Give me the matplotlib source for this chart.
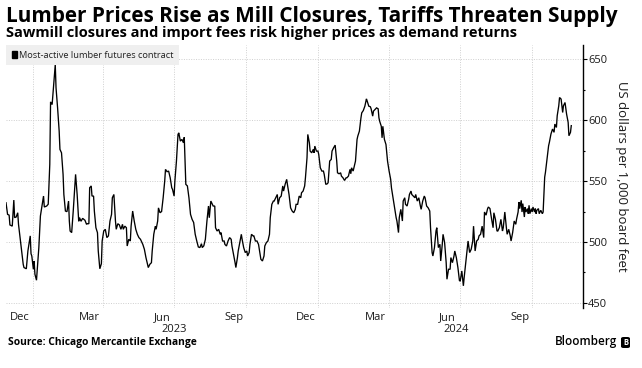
import matplotlib
matplotlib.use("Agg")
import matplotlib.pyplot as plt
import matplotlib.transforms as mtransforms
from matplotlib.patches import Patch, FancyBboxPatch
from matplotlib.ticker import MultipleLocator, NullFormatter
import pandas as pd

# ---------------- data ----------------
base_date = "2023-01-01"
day_offsets = [
    -34, -32, -30, -29, -26, -24, -23, -21, -19, -18, -16, -14, -12, -11, -8, -6, -3, -2, -1, 1, 2, 3, 5, 8, 10,
    12, 14, 15, 18, 20, 22, 23, 25, 27, 29, 30, 32, 34, 35, 37, 39, 40, 42, 44, 46, 47, 48, 50, 52, 55, 57, 59,
    60, 62, 64, 67, 69, 70, 72, 73, 75, 76, 78, 79, 81, 83, 84, 86,
    88, 89, 91, 93, 95, 97, 99, 101, 102, 104, 106, 107, 109, 111, 113, 115, 116, 118, 120, 121, 123, 125, 126,
    128, 130, 132, 134, 136, 138, 141, 143, 145, 147, 148, 150, 152, 153, 155, 157, 158, 160, 161, 163, 165, 167,
    169, 170, 172, 174, 176, 178, 179, 181, 182, 184, 186, 187, 189, 191, 193, 194, 195, 196, 198, 200, 202, 204,
    206, 208, 210, 212, 214, 216, 217, 219, 221, 223, 225, 226, 228, 229, 231, 233, 234, 236, 238, 240, 241, 243,
    245, 246, 248, 250, 252, 254, 255, 257, 259, 260, 262, 263, 265, 267, 268, 270, 272, 274, 275, 277, 278, 280,
    282, 283, 285, 287, 289, 291, 292, 294, 296, 297, 299, 301, 303, 304, 306, 308, 309, 311, 313, 314, 316, 318,
    320, 321, 323, 325, 326, 328, 330, 332, 334, 336, 337, 339, 341, 343, 344, 346, 348, 349, 351, 352, 354, 355,
    357, 359, 360, 361, 363, 365, 366, 368, 370, 372, 373, 375, 377, 378, 380, 382, 383, 385, 387, 389, 390, 392,
    394, 395, 397, 399, 401, 402, 404, 406, 407, 408, 410, 412, 413, 415, 416, 418, 420, 421, 423, 425, 427, 428,
    430, 432, 433, 435, 436, 438, 440, 442, 443, 444, 446, 447, 448, 450, 452, 454, 456, 458, 459, 461, 463, 465,
    466, 468, 469, 471, 473, 474, 476, 477, 479, 481, 482, 484, 485, 487, 489, 490, 492, 494, 496, 497, 499, 501,
    502, 504, 506, 508, 509, 511, 512, 514, 516, 517, 519, 521, 522, 524, 525, 527, 529, 530, 532, 534, 535, 537,
    539, 540, 542, 544, 546, 547, 549, 551, 552, 554, 556, 557, 559, 561, 563, 564, 566, 568, 570, 571, 573, 575,
    577, 578, 580, 582, 583, 585, 587, 589, 590, 592, 594, 595, 597, 599, 601, 602, 604, 606, 607, 609, 611, 612,
    614, 616, 618, 619, 621, 622, 623, 625, 626, 627, 629, 630, 631, 633, 634, 635, 636, 638, 639, 640, 642, 643,
    644, 645, 647, 648, 649, 650, 652, 653, 655, 656, 658, 660, 661, 663, 665, 667, 668, 670, 671, 673, 674, 676,
    678, 679, 681, 683, 685, 686, 688, 689,
]
prices = [
    532.2, 522.7, 522.0, 514.0, 513.0, 534.4, 520.0, 520.5, 524.0, 514.5, 503.5, 492.6, 481.7, 479.0, 478.0, 492.6,
    505.0, 490.4, 488.5, 477.6, 484.4, 473.5, 468.6, 495.4, 521.3, 529.5, 537.7, 528.7, 529.5, 531.0, 563.7, 615.0,
    612.8, 629.2, 645.6, 626.5, 610.0, 591.0, 576.0, 573.2, 555.5, 539.0, 525.4, 524.9, 533.6, 517.2, 509.0, 507.7,
    525.4, 555.5, 539.0, 517.0, 520.0, 517.0, 519.4, 517.8, 514.5, 515.0, 515.0, 544.5, 546.0, 537.7, 537.7, 525.4,
    511.7, 507.6, 492.6, 478.0,
    482.2, 500.8, 509.0, 510.4, 503.6, 505.0, 517.2, 522.7, 536.3, 539.0, 517.2, 510.4, 515.0, 514.0, 510.4, 514.5,
    510.4, 513.0, 511.7, 496.7, 502.2, 500.8, 513.0, 525.4, 517.2, 510.4, 506.3, 503.6, 502.2, 498.0, 494.0, 487.2,
    481.7, 479.0, 481.7, 483.0, 492.6, 506.3, 513.0, 510.4, 517.2, 528.0, 524.0, 525.0, 536.3, 550.0, 559.6, 557.7,
    558.2, 552.7, 544.5, 543.2, 537.7, 550.0, 566.4, 588.3, 589.6, 582.8, 584.2, 581.4, 586.0, 566.4, 547.3, 546.0,
    536.3, 522.7, 518.6, 516.0, 506.3, 500.8, 495.9, 495.4, 498.6, 495.4, 496.8, 502.2, 517.2, 529.5, 519.9, 533.6,
    532.2, 529.5, 529.5, 511.7, 509.0, 510.4, 506.3, 507.7, 500.8, 500.8, 498.0, 496.7, 500.8, 503.6, 502.2, 496.7,
    489.9, 483.0, 479.0, 487.2, 492.6, 499.5, 506.3, 502.2, 495.4, 491.3, 492.6, 488.5, 491.3, 498.0, 506.3, 505.0,
    505.0, 500.8, 500.8, 498.0, 489.9, 485.8, 484.4, 488.5, 496.7, 499.5, 500.8, 506.3, 520.0, 530.9, 533.6, 533.6,
    536.3, 539.0, 530.9, 536.3, 537.7, 546.0, 541.8, 547.3, 551.4, 547.0, 539.0, 528.0, 525.4, 524.0, 526.8, 530.9,
    530.9, 537.7, 536.3, 540.4, 541.8, 546.0, 552.7, 569.1, 588.3, 581.4, 574.6, 573.2, 576.0, 573.2, 578.7, 574.6,
    574.6, 571.9, 560.9, 558.2, 558.2, 555.5, 547.3, 547.8, 548.7, 566.4, 567.8, 574.6, 577.3, 579.5, 566.4, 556.8,
    556.0, 556.8, 554.1, 552.7, 550.5, 552.7, 552.7, 554.1, 559.6, 556.0, 560.9, 558.2, 563.7, 566.4, 584.2, 587.0,
    591.0, 601.9, 606.0, 607.9, 611.5, 617.5, 615.6, 611.5, 611.0, 609.3, 603.3, 607.4, 608.8, 610.1, 609.3, 601.9,
    599.0, 595.0, 585.5, 595.0, 584.2, 580.0, 566.4, 558.2, 551.4, 544.5, 536.3, 528.0, 520.0, 517.2, 507.7, 520.0,
    526.8, 517.2, 533.6, 536.3, 530.9, 529.5, 535.0, 539.0, 541.8, 539.0, 537.7, 536.3, 539.0, 533.6, 536.3, 529.5,
    526.8, 533.6, 537.7, 536.3, 529.5, 528.0, 525.4, 511.7, 491.3, 488.5, 495.4, 509.0, 511.7, 495.4, 498.1, 484.4,
    498.1, 506.3, 499.5, 483.0, 469.4, 477.6, 477.6, 487.2, 483.0, 488.5, 492.6, 487.2, 479.0, 468.1, 468.1, 476.2,
    464.0, 470.8, 483.0, 495.4, 500.8, 491.3, 494.0, 500.8, 513.0, 492.6, 500.8, 502.2, 505.0, 506.3, 513.0, 503.6,
    524.6, 522.0, 527.4, 528.7, 527.4, 519.2, 511.7, 524.0, 518.6, 509.0, 509.0, 511.7, 518.6, 509.0, 511.7, 524.6,
    511.7, 506.3, 510.4, 505.0, 500.8, 507.7, 517.2, 514.5, 518.6, 524.6, 532.8, 527.4, 534.2, 524.6, 531.5, 520.5,
    528.7, 524.6, 527.4, 523.2, 530.1, 523.2, 527.4, 524.6, 528.7, 524.6, 527.4, 523.2, 526.0, 527.4, 523.2, 524.6,
    526.0, 523.2, 524.6, 553.2, 557.3, 568.1, 579.0, 581.8, 588.6, 592.7, 590.0, 596.8, 594.0, 603.6, 611.8, 618.6,
    617.3, 606.3, 611.8, 614.5, 605.0, 598.2, 587.2, 590.0, 595.5,
]

title = "Lumber Prices Rise as Mill Closures, Tariffs Threaten Supply"
subtitle = "Sawmill closures and import fees risk higher prices as demand returns"
legend_label = "Most-active lumber futures contract"
y_label = "US dollars per 1,000 board feet"
source = "Source: Chicago Mercantile Exchange"
brand = "Bloomberg"

month_labels = ["Dec", "Mar", "Jun", "Sep", "Dec", "Mar", "Jun", "Sep"]
month_label_dates = ["2022-12-15", "2023-03-15", "2023-06-16", "2023-09-16",
                     "2023-12-16", "2024-03-15", "2024-06-15", "2024-09-15"]
grid_dates = ["2023-01-01", "2023-04-01", "2023-07-01", "2023-10-01",
              "2024-01-01", "2024-04-01", "2024-07-01", "2024-10-01"]
year_labels = ["2023", "2024"]
year_label_dates = ["2023-07-01", "2024-06-26"]
y_ticks = [450, 500, 550, 600, 650]
x_limits = ["2022-11-28", "2024-12-05"]
y_limits = (445.8, 661.7)

# ---------------- figure ----------------
W, H, DPI = 642, 368, 100
FONT = ["Open Sans", "DejaVu Sans"]
plt.rcParams["font.family"] = FONT

dates = pd.Timestamp(base_date) + pd.to_timedelta(day_offsets, unit="D")

fig = plt.figure(figsize=(W / DPI, H / DPI), dpi=DPI)
fig.patch.set_facecolor("white")

ax_l, ax_r, ax_t, ax_b = 6, 583, 45, 308
ax = fig.add_axes([ax_l / W, 1 - ax_b / H, (ax_r - ax_l) / W, (ax_b - ax_t) / H])

ax.plot(dates, prices, color="black", lw=0.95, solid_joinstyle="miter", zorder=3)

ax.set_xlim(pd.Timestamp(x_limits[0]), pd.Timestamp(x_limits[1]))
ax.set_ylim(*y_limits)

# x axis: gridlines at quarter starts, labels at mid-month
ax.set_xticks(pd.to_datetime(grid_dates))
ax.xaxis.set_major_formatter(NullFormatter())
ax.set_xticks(pd.to_datetime(month_label_dates), minor=True)
ax.set_xticklabels(month_labels, minor=True)
ax.tick_params(axis="x", which="major", length=0)
ax.tick_params(axis="x", which="minor", length=0, pad=3.0, labelsize=8, labelcolor="#1a1a1a")
ax.grid(axis="x", which="major", color="#cfcfcf", linestyle=(0, (1, 1.5)), lw=0.7)

# y axis on right
ax.yaxis.tick_right()
ax.yaxis.set_label_position("right")
ax.set_yticks(y_ticks)
ax.yaxis.set_minor_locator(MultipleLocator(25))
ax.tick_params(axis="y", which="major", direction="out", length=2.6, width=0.8, pad=1.0,
               labelsize=8, labelcolor="#1a1a1a", color="black")
ax.tick_params(axis="y", which="minor", direction="out", length=1.6, width=0.8, color="black")
ax.grid(axis="y", which="major", color="#cfcfcf", linestyle=(0, (1, 1.5)), lw=0.7)
ax.set_axisbelow(True)

for s in ["top", "left", "bottom"]:
    ax.spines[s].set_visible(False)
ax.spines["right"].set_color("black")
ax.spines["right"].set_linewidth(1.0)

ylab = ax.set_ylabel(y_label, rotation=270, va="bottom", fontsize=9.5, color="#1a1a1a", labelpad=6)

# legend
leg = ax.legend(handles=[Patch(facecolor="black", edgecolor="black")], labels=[legend_label],
                loc="upper left", bbox_to_anchor=(0, 1), borderaxespad=0, frameon=True,
                fancybox=False, facecolor="#efefef", edgecolor="none", framealpha=1,
                fontsize=6.7, handlelength=0.55, handleheight=0.7, handletextpad=0.25,
                borderpad=0.6, labelcolor="#222222")

# year labels
trans_year = mtransforms.blended_transform_factory(ax.transData, fig.transFigure)
for lab, d in zip(year_labels, year_label_dates):
    ax.text(pd.Timestamp(d), 1 - 329 / H, lab, transform=trans_year, ha="center", va="center",
            fontsize=8, color="#1a1a1a")

# titles
t1 = fig.text(6 / W, 1 - 22 / H, title, ha="left", va="baseline", fontsize=13, fontweight="bold", color="black")
t2 = fig.text(6 / W, 1 - 37 / H, subtitle, ha="left", va="baseline", fontsize=9.5, fontweight="bold", color="black")
t3 = fig.text(8 / W, 1 - 343 / H, source, ha="left", va="center", fontsize=6.5, fontweight="bold", color="black")
t4 = fig.text(617 / W, 1 - 342 / H, brand, ha="right", va="center", fontsize=8.5, fontweight="semibold", color="black")

fig.canvas.draw()
r = fig.canvas.get_renderer()


def fit_width(t, target):
    w = t.get_window_extent(r).width
    t.set_fontsize(t.get_fontsize() * target / w)


fit_width(t1, 607)
fit_width(t2, 518)
fit_width(t3, 189)
fit_width(t4, 62)
hy = ylab.get_window_extent(r).height
ylab.set_fontsize(ylab.get_fontsize() * 192 / hy)

# Bloomberg icon
icon = FancyBboxPatch((621 / W, 1 - 348 / H), 9 / W, 11 / H, boxstyle="round,pad=0,rounding_size=0.004",
                      transform=fig.transFigure, facecolor="black", edgecolor="none")
fig.patches.append(icon)
fig.text(625.5 / W, 1 - 342.5 / H, "B", ha="center", va="center", fontsize=5.5, color="white", fontweight="bold")

fig.savefig("out.png", dpi=DPI, facecolor="white")
